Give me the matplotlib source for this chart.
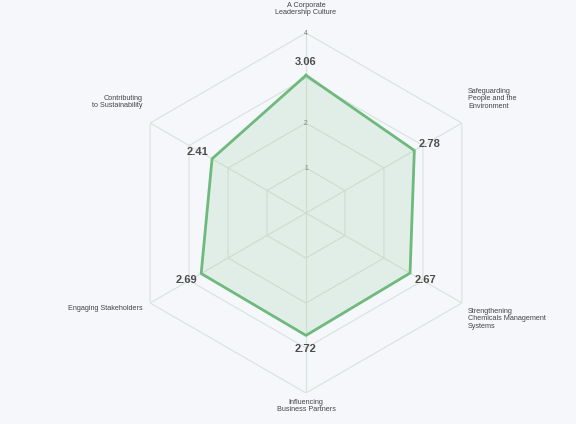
import numpy as np
import matplotlib
matplotlib.use("Agg")
import matplotlib.pyplot as plt

plt.rcParams["font.family"] = ["Liberation Sans", "DejaVu Sans"]

CATEGORIES = ["A Corporate\nLeadership Culture",
              "Safeguarding\nPeople and the\nEnvironment",
              "Strengthening\nChemicals Management\nSystems",
              "Influencing\nBusiness Partners",
              "Engaging Stakeholders",
              "Contributing\nto Sustainability"]
SCORES = [3.06, 2.78, 2.67, 2.72, 2.69, 2.41]
RINGS = [1, 2, 3, 4]
RING_LABELS = ["1", "2", "", "4"]

BG = "#f5f7fa"
GRID = "#dce4de"
LINE = "#6dba7c"
FILL = "#7cc48a"
TXT = "#4d4d4d"


def main():
    n = len(CATEGORIES)
    theta = np.linspace(0, 2 * np.pi, n, endpoint=False)

    fig = plt.figure(figsize=(5.76, 4.24), dpi=100, facecolor=BG)
    cx, cy, r = 306 / 576, 1 - 213 / 424, 180
    ax = fig.add_axes([cx - r / 576, cy - r / 424, 2 * r / 576, 2 * r / 424],
                      projection="polar")
    ax.set_facecolor("none")
    ax.set_theta_zero_location("N")
    ax.set_theta_direction(-1)
    ax.set_ylim(0, 4)
    ax.axis("off")

    # hexagonal grid + spokes
    closed = np.append(theta, theta[0])
    for ring in RINGS:
        ax.plot(closed, [ring] * (n + 1), color=GRID, lw=0.9, zorder=1)
    for t in theta:
        ax.plot([t, t], [0, RINGS[-1]], color=GRID, lw=0.9, zorder=1)
    for ring, lab in zip(RINGS, RING_LABELS):
        if lab:
            ax.text(0, ring, lab, ha="center", va="center", fontsize=4.8,
                    color="#777777", zorder=2)

    vals = np.append(SCORES, SCORES[0])
    ax.fill(closed, vals, color=FILL, alpha=0.16, zorder=3)
    ax.plot(closed, vals, color=LINE, lw=2, zorder=4)

    # value labels pushed outward from each vertex
    for t, v in zip(theta, SCORES):
        dx, dy = np.sin(t), np.cos(t)
        ax.annotate(f"{v:.2f}", (t, v), xytext=(dx * 12.5, dy * 9.5),
                    textcoords="offset points", ha="center", va="center",
                    fontsize=8, fontweight="bold", color=TXT, zorder=5)

    # category labels (figure pixel positions)
    lab_pos = [(306, 9, "center"), (468, 99, "left"), (468, 319, "left"),
               (306, 406, "center"), (143, 308, "right"), (143, 102, "right")]
    for text, (x, y, ha) in zip(CATEGORIES, lab_pos):
        fig.text(x / 576, 1 - y / 424, text, ha=ha, va="center", fontsize=5.2,
                 color="#444444", multialignment=ha, linespacing=1.1)

    fig.savefig("out.png", dpi=100, facecolor=BG)


if __name__ == "__main__":
    main()
